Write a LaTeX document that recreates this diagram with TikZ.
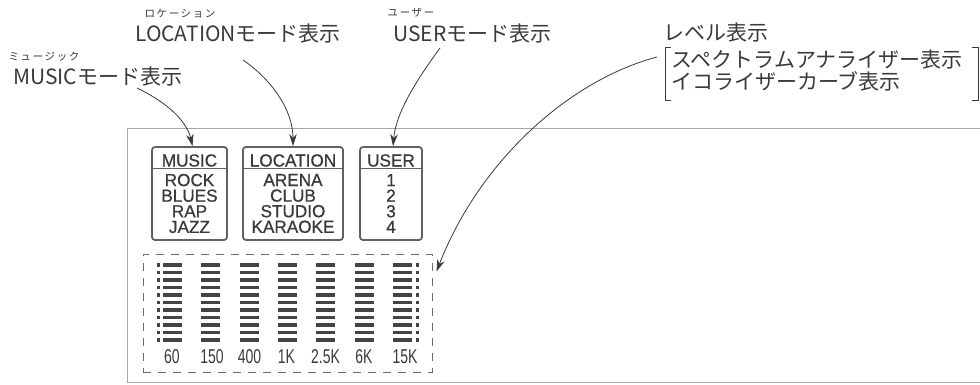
\documentclass[tikz,border=0pt]{standalone}
\usepackage{fontspec}
\setmainfont{Liberation Sans}
\newfontfamily\jp{Noto Sans CJK JP}
\newfontfamily\jpruby[LetterSpace=15]{Noto Sans CJK JP}
\newfontfamily\lcdfont[FakeStretch=0.98,FakeBold=0.7]{Liberation Sans}
\newfontfamily\eqfont[FakeStretch=0.7]{Liberation Sans}
\usetikzlibrary{arrows.meta}
\definecolor{ink}{HTML}{3A3A3A}
\definecolor{panelline}{HTML}{A8A8A8}
\tikzset{
  lbl/.style={inner sep=0pt, text=ink, font=\jp\fontsize{21}{21}\selectfont},
  ruby/.style={inner sep=0pt, text=ink, font=\jpruby\fontsize{10.5}{10.5}\selectfont},
  modebox/.style={draw=ink!80, line width=1.8pt, rounded corners=3pt, inner sep=0pt},
  lcdtxt/.style={inner sep=0pt, text=ink, align=center, font=\lcdfont\fontsize{17.5}{15.6}\selectfont},
  eqtxt/.style={inner sep=0pt, text=ink, font=\eqfont\fontsize{20}{20}\selectfont},
  eqbox/.style={draw=ink!75, line width=1pt, dash pattern=on 8pt off 7pt, inner sep=0pt},
  callout/.style={draw=ink, line width=0.8pt, -{Stealth[length=12pt,width=7.5pt]}},
  bar/.style={fill=ink!95},
  brk/.style={draw=ink, line width=0.8pt}
}
\begin{document}
\begin{tikzpicture}[x=1pt,y=-1pt]
\useasboundingbox (0,0) rectangle (980,385);
\fill[white] (0,0) rectangle (980,385);

% panel outline
\draw[panelline, line width=0.9pt] (980,128) -- (127,128) -- (127,382) -- (980,382);

% top labels
\node[ruby] (mruby) at (44,57) {ミュージック};
\node[lbl, anchor=west] (mlbl) at (13,77) {MUSICモード表示};
\node[ruby] (lruby) at (180,14) {ロケーション};
\node[lbl, anchor=west] (llbl) at (135,34) {LOCATIONモード表示};
\node[ruby] (uruby) at (411,13) {ユーザー};
\node[lbl, anchor=west] (ulbl) at (393,34) {USERモード表示};
\node[lbl, anchor=west] (lvl) at (663,33) {レベル表示};
\node[lbl, anchor=west] (spec) at (671,60) {スペクトラムアナライザー表示};
\node[lbl, anchor=west] (eqc) at (671,81) {イコライザーカーブ表示};
\draw[brk] (671,47) -- (665,47) -- (665,100) -- (671,100);
\draw[brk] (972,47) -- (978,47) -- (978,100) -- (972,100);

% mode boxes
\node[modebox, minimum width=75pt, minimum height=93pt] (musicbox) at (189.5,193.5) {};
\node[modebox, minimum width=100pt, minimum height=93pt] (locbox) at (293,193.5) {};
\node[modebox, minimum width=62pt, minimum height=93pt] (userbox) at (391,193.5) {};
\foreach \b in {musicbox,locbox,userbox}{
  \draw[ink!80, line width=1pt] ([yshift=-22pt]\b.north west) -- ([yshift=-22pt]\b.north east);
}
\node[lcdtxt] (mh) at (189.5,160.5) {MUSIC};
\node[lcdtxt] (mitems) at (189.5,203.5) {ROCK\\BLUES\\RAP\\JAZZ};
\node[lcdtxt] (lh) at (293,160.5) {LOCATION};
\node[lcdtxt] (litems) at (293,203.5) {ARENA\\CLUB\\STUDIO\\KARAOKE};
\node[lcdtxt] (uh) at (391,160.5) {USER};
\node[lcdtxt] (uitems) at (391,203.5) {1\\2\\3\\4};

% equalizer area
\node[eqbox, minimum width=289pt, minimum height=118pt] (eqbox) at (287.5,313) {};
\foreach \i in {0,...,6}{
  \foreach \j in {0,...,10}{
    \pgfmathsetmacro{\cx}{172.5+38.3*\i}
    \pgfmathsetmacro{\cy}{265+7.5*\j}
    \fill[bar] (\cx-9.5,\cy-1.6) rectangle (\cx+9.5,\cy+1.6);
  }
}
\foreach \j in {0,...,10}{
  \pgfmathsetmacro{\cy}{265+7.5*\j}
  \fill[bar] (156.5,\cy-1.6) rectangle (159.8,\cy+1.6);
  \fill[bar] (416,\cy-1.6) rectangle (419.3,\cy+1.6);
}
\node[eqtxt] (f1) at (172,356.5) {60};
\node[eqtxt] (f2) at (212,356.5) {150};
\node[eqtxt] (f3) at (249.5,356.5) {400};
\node[eqtxt] (f4) at (286.5,356.5) {1K};
\node[eqtxt] (f5) at (325.5,356.5) {2.5K};
\node[eqtxt] (f6) at (364,356.5) {6K};
\node[eqtxt] (f7) at (405,356.5) {15K};

% connectors
\coordinate (ms) at (137,88);
\coordinate (ls) at (243,60);
\coordinate (us) at (440,48);
\coordinate (vs) at (657,57);
\draw[callout] (ms) .. controls (162,100) and (186,118) .. ([xshift=3pt]musicbox.north);
\draw[callout] (ls) .. controls (272,80) and (293,110) .. (locbox.north);
\draw[callout] (us) .. controls (418,78) and (396,112) .. ([xshift=2pt]userbox.north);
\draw[callout] (vs) .. controls (570,80) and (480,160) .. ([xshift=4pt,yshift=-18pt]eqbox.north east);
\end{tikzpicture}
\end{document}
